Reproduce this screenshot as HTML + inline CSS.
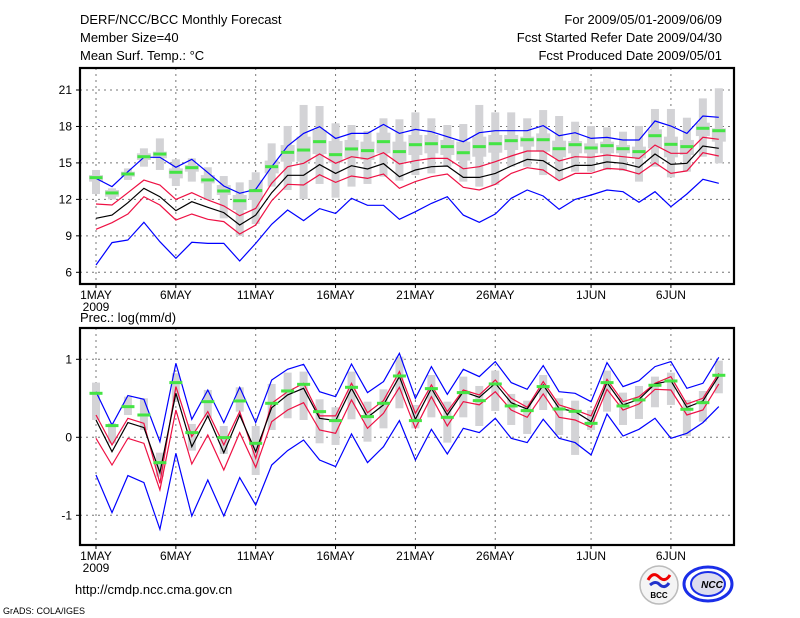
<!DOCTYPE html>
<html><head><meta charset="utf-8"><style>
html,body{margin:0;padding:0;background:#fff;width:800px;height:618px;overflow:hidden}
svg{display:block}
text{font-family:"Liberation Sans",sans-serif;fill:#000}
</style></head><body>
<svg id="chart" width="800" height="618" xmlns="http://www.w3.org/2000/svg">
<text x="80" y="24" font-size="13">DERF/NCC/BCC Monthly Forecast</text>
<text x="80" y="42" font-size="13">Member Size=40</text>
<text x="80" y="60" font-size="13">Mean Surf. Temp.: °C</text>
<text x="722" y="24" font-size="13" text-anchor="end">For 2009/05/01-2009/06/09</text>
<text x="722" y="42" font-size="13" text-anchor="end">Fcst Started Refer Date 2009/04/30</text>
<text x="722" y="60" font-size="13" text-anchor="end">Fcst Produced Date 2009/05/01</text>
<text x="80" y="322" font-size="13">Prec.: log(mm/d)</text>
<text x="75" y="594" font-size="13">http://cmdp.ncc.cma.gov.cn</text>
<text x="3" y="614" font-size="9">GrADS: COLA/IGES</text>
<g>
<circle cx="659" cy="585" r="19" fill="#f4f4f4" stroke="#bbb" stroke-width="1.5"/>
<path d="M648 580 q5 -9 11 -3 q6 6 11 -2" stroke="#e00" stroke-width="3" fill="none"/>
<path d="M650 585 q6 -5 10 0 q5 4 9 -2" stroke="#2233cc" stroke-width="3" fill="none"/>
<text x="659" y="598" font-size="8" text-anchor="middle" font-weight="bold" fill="#222">BCC</text>
</g>
<g>
<ellipse cx="708" cy="584" rx="24" ry="17" fill="none" stroke="#1a2ee8" stroke-width="3"/>
<ellipse cx="708" cy="584" rx="17" ry="12" fill="#dde" stroke="#1a2ee8" stroke-width="2"/>
<text x="712" y="588" font-size="10" text-anchor="middle" font-weight="bold" font-style="italic" fill="#1a2ee8">NCC</text>
</g>
</svg>
<script>
// ---- data ----
const days = 40;
const dateLabels = ["1MAY","6MAY","11MAY","16MAY","21MAY","26MAY","1JUN","6JUN"];
const dateIdx = [0,5,10,15,20,25,31,36];
const tTicks = [6,9,12,15,18,21];
const pTicks = [-1,0,1];
const tBlueHi = [13.73,13.05,14.28,15.46,15.46,14.64,15.30,14.20,13.10,12.50,12.83,14.69,16.39,17.43,17.98,17.02,17.43,17.43,18.17,17.43,17.76,17.57,17.16,16.75,17.49,17.65,17.65,17.65,18.07,17.24,17.49,17.02,17.1,16.89,16.89,18.45,18.04,17.43,18.86,18.75];
const tRedHi = [11.62,11.54,12.55,13.59,13.18,12.0,12.55,11.95,11.46,10.66,11.26,13.32,14.69,14.97,15.73,14.97,15.51,15.32,15.84,14.91,15.18,15.37,15.37,14.52,14.69,15.1,15.57,15.98,15.98,15.16,15.51,15.46,15.65,15.51,15.37,16.47,15.79,15.79,17.11,16.94];
const tMean = [10.44,10.71,11.73,12.91,12.22,11.07,11.81,11.35,10.91,9.89,10.71,12.55,13.98,13.98,14.86,14.14,14.77,14.5,14.94,13.87,14.42,14.69,14.75,13.81,13.81,14.14,14.75,15.29,15.18,14.34,14.8,14.8,15.08,14.97,14.64,15.73,14.88,14.97,16.39,16.2];
const tRedLo = [9.54,10.08,10.8,12.22,11.54,10.3,10.8,10.36,10.17,9.15,9.89,11.89,13.24,13.18,14.03,13.4,13.92,13.73,14.09,12.91,13.46,13.87,14.09,12.99,12.77,13.24,14.14,14.61,14.42,13.54,14.14,14.14,14.55,14.47,14.09,15.02,14.14,14.34,15.84,15.57];
const tBlueLo = [6.6,8.44,8.66,10.11,8.52,7.15,8.47,8.38,8.38,6.93,8.38,9.95,11.13,10.25,11.24,10.85,12.09,11.51,11.51,10.36,10.99,11.67,12.22,10.71,10.11,10.8,12.09,12.77,12.28,11.18,12.0,12.36,12.77,12.63,11.76,12.63,11.4,12.44,13.65,13.32];
const tMedian = [13.79,12.53,14.09,15.51,15.73,14.23,14.61,13.6,12.69,11.89,12.72,14.69,15.87,16.06,16.75,15.68,16.15,16.01,16.75,15.93,16.5,16.58,16.34,15.84,16.34,16.58,16.83,16.91,16.91,16.17,16.5,16.23,16.42,16.17,15.93,17.24,16.53,16.34,17.85,17.65];
const tMax = [14.42,12.91,14.55,16.2,17.02,15.3,15.38,14.64,13.92,13.4,14.23,16.61,18.04,19.77,19.68,18.26,18.12,17.63,18.67,18.59,19.16,18.67,18.12,18.2,19.77,19.16,19.16,18.67,19.35,18.86,18.39,18.04,17.93,17.57,18.04,19.44,19.44,18.72,20.31,21.14];
const tMin = [12.44,12.0,13.6,14.69,14.42,13.1,13.46,11.95,10.44,8.99,9.97,13.05,12.77,12.03,13.27,12.14,13.05,13.27,13.87,13.54,14.0,14.14,14.69,13.46,13.05,13.18,14.69,14.69,14.0,13.6,14.28,14.28,14.42,14.34,13.46,14.69,13.81,14.28,15.51,14.97];
const tQ3 = [14.0,12.77,14.28,15.79,15.93,14.55,14.83,14.0,13.18,12.36,13.6,15.19,16.47,17.16,17.71,16.8,16.89,16.75,17.49,16.75,17.3,17.3,16.89,16.75,17.16,17.3,17.3,17.16,17.43,16.83,16.8,16.61,16.75,16.47,16.34,17.76,17.16,16.89,18.31,17.85];
const tQ1 = [13.46,12.22,13.87,15.24,15.38,13.73,14.28,13.32,12.36,11.13,11.95,14.14,15.1,15.1,15.73,15.02,15.38,15.24,15.79,15.1,15.65,15.79,15.65,15.19,15.51,15.84,16.06,16.34,15.93,15.46,15.79,15.79,15.79,15.79,15.38,16.2,15.46,15.65,17.21,16.75];
const pBlueHi = [0.585,0.158,0.534,0.487,-0.056,0.949,0.231,0.607,0.188,0.641,0.188,0.735,0.872,0.936,0.585,0.521,0.94,0.573,0.714,1.077,0.5,0.906,0.551,0.872,0.778,0.97,0.701,0.615,0.919,0.585,0.564,0.457,0.957,0.65,0.726,0.906,0.97,0.628,0.692,1.026];
const pRedHi = [0.286,-0.098,0.244,0.179,-0.59,0.65,0.009,0.329,-0.098,0.329,-0.269,0.436,0.585,0.692,0.274,0.274,0.692,0.316,0.47,0.842,0.308,0.671,0.329,0.607,0.543,0.735,0.5,0.385,0.714,0.415,0.35,0.274,0.744,0.457,0.521,0.692,0.778,0.427,0.5,0.821];
const pMean = [0.222,-0.184,0.188,0.124,-0.453,0.564,-0.12,0.274,-0.197,0.286,-0.184,0.38,0.543,0.628,0.244,0.214,0.628,0.256,0.415,0.778,0.231,0.628,0.286,0.585,0.513,0.692,0.444,0.363,0.671,0.372,0.329,0.201,0.701,0.415,0.487,0.684,0.726,0.385,0.466,0.786];
const pRedLo = [-0.013,-0.355,-0.013,-0.077,-0.675,0.35,-0.342,0.03,-0.419,0.06,-0.385,0.201,0.35,0.444,0.094,0.051,0.479,0.115,0.308,0.641,0.115,0.521,0.145,0.457,0.415,0.585,0.35,0.256,0.556,0.256,0.222,0.128,0.615,0.35,0.427,0.615,0.607,0.286,0.35,0.684];
const pBlueLo = [-0.483,-0.966,-0.491,-0.581,-1.179,-0.205,-1.009,-0.547,-1.009,-0.517,-0.868,-0.355,-0.171,-0.034,-0.291,-0.376,0.043,-0.325,-0.12,0.214,-0.291,0.103,-0.214,0.115,0.06,0.244,-0.013,-0.068,0.231,-0.013,-0.068,-0.226,0.299,0.017,0.103,0.244,-0.013,0.051,0.188,0.393];
const pMedian = [0.564,0.15,0.393,0.286,-0.325,0.701,0.06,0.457,-0.004,0.466,-0.077,0.436,0.594,0.679,0.329,0.214,0.641,0.265,0.436,0.786,0.214,0.624,0.256,0.573,0.47,0.684,0.402,0.342,0.65,0.363,0.333,0.179,0.701,0.402,0.479,0.667,0.722,0.359,0.444,0.795];
const pMax = [0.701,0.179,0.521,0.5,-0.197,0.821,0.171,0.607,0.145,0.641,0.145,0.684,0.829,0.842,0.487,0.385,0.842,0.457,0.615,1.034,0.415,0.799,0.457,0.778,0.658,0.855,0.556,0.47,0.799,0.5,0.47,0.35,0.855,0.573,0.658,0.778,0.829,0.479,0.594,0.983];
const pMin = [0.222,-0.077,0.286,0.094,-0.504,0.457,-0.171,0.256,-0.214,0.329,-0.483,0.094,0.244,0.222,-0.077,-0.098,0.231,-0.056,0.115,0.372,0.115,0.256,-0.068,0.256,0.145,0.338,0.158,0.043,0.35,0.03,-0.226,0.094,0.329,0.158,0.235,0.385,0.415,0.017,0.201,0.564];

const NS="http://www.w3.org/2000/svg";
const svg=document.getElementById('chart');
function mk(tag,attrs,parent){const e=document.createElementNS(NS,tag);for(const k in attrs)e.setAttribute(k,attrs[k]);(parent||svg).appendChild(e);return e;}
const X0=80,X1=734;
function xScale(i){return 96+15.97*i;}
function panel(name,top,bottom,vmin,vmax,yOfMin,yOfMax,ticks,series,boxes,median,wideBox){
  const y=v=>yOfMin+(v-vmin)*(yOfMax-yOfMin)/(vmax-vmin);
  const g=mk('g',{});
  
  
  ticks.forEach(t=>{
    const l=mk('line',{x1:X0,x2:X1,y1:y(t),y2:y(t),stroke:'#777','stroke-dasharray':'2,4'},g);
    
    
    const tk=mk('line',{x1:X0-4,x2:X0,y1:y(t),y2:y(t),stroke:'#000'},g);
    
    
    const tx=mk('text',{x:X0-8,y:y(t)+4,'font-size':12,'text-anchor':'end'},g);
    tx.textContent=t;
    
    
  });
  dateIdx.forEach((d,k)=>{
    const xx=xScale(d);
    const l=mk('line',{x1:xx,x2:xx,y1:top,y2:bottom,stroke:'#777','stroke-dasharray':'2,4'},g);
    
    
    const tk=mk('line',{x1:xx,x2:xx,y1:bottom,y2:bottom+4,stroke:'#000'},g);
    
    
    const tx=mk('text',{x:xx,y:bottom+15,'font-size':12,'text-anchor':'middle'},g);
    tx.textContent=dateLabels[k];
    
    
  });
  const yr=mk('text',{x:xScale(0),y:bottom+27,'font-size':12,'text-anchor':'middle'},g);
  yr.textContent='2009';
  
  
  for(let i=0;i<days;i++){
    const xx=xScale(i);
    const b=mk('rect',{x:xx-4,y:y(boxes[0][i]),width:8,height:Math.max(1,y(boxes[1][i])-y(boxes[0][i])),fill:'#d3d3d6'},g);
    
    
    if(wideBox){
      const w=mk('rect',{x:xx-7,y:y(wideBox[0][i]),width:14,height:Math.max(1,y(wideBox[1][i])-y(wideBox[0][i])),fill:'#d3d3d6'},g);
      
      
    }
  }
  series.forEach(s=>{
    const p=mk('polyline',{points:s.d.map((v,i)=>xScale(i).toFixed(1)+','+y(v).toFixed(1)).join(' '),fill:'none',stroke:s.c,'stroke-width':1.2},g);
    
    
  });
  for(let i=0;i<days;i++){
    const m=mk('rect',{x:xScale(i)-6.5,y:y(median[i])-1.5,width:13,height:3,fill:'#44e444'},g);
    
    
  }
  const fr=mk('rect',{x:X0,y:top,width:X1-X0,height:bottom-top,fill:'none',stroke:'#000','stroke-width':2.2},g);
  
  
}
panel('temperature-panel',68,284,6,21,272.3,90,tTicks,[
  {n:'temp-upper-blue',c:'#0000ff',d:tBlueHi},{n:'temp-upper-red',c:'#ee1144',d:tRedHi},
  {n:'temp-mean-line',c:'#000',d:tMean},{n:'temp-lower-red',c:'#ee1144',d:tRedLo},
  {n:'temp-lower-blue',c:'#0000ff',d:tBlueLo}],[tMax,tMin],tMedian,[tQ3,tQ1]);
panel('precip-panel',328,545,-1,1,515.3,359.3,pTicks,[
  {n:'precip-upper-blue',c:'#0000ff',d:pBlueHi},{n:'precip-upper-red',c:'#ee1144',d:pRedHi},
  {n:'precip-mean-line',c:'#000',d:pMean},{n:'precip-lower-red',c:'#ee1144',d:pRedLo},
  {n:'precip-lower-blue',c:'#0000ff',d:pBlueLo}],[pMax,pMin],pMedian,null);
</script>
</body></html>
